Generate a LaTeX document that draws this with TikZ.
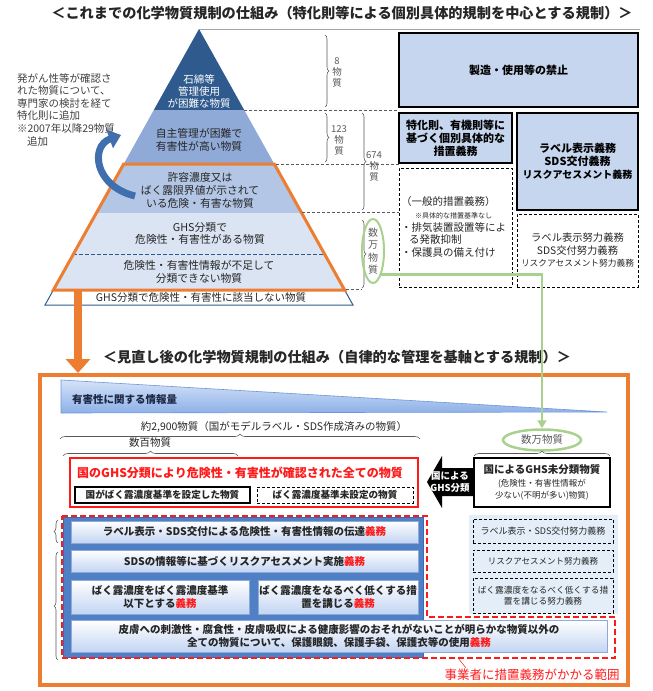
\documentclass[tikz,border=0pt]{standalone}
\usepackage{fontspec}
\setmainfont{Noto Sans CJK JP}
\usetikzlibrary{shapes.geometric,arrows.meta,decorations.pathreplacing}
\definecolor{pyrA}{HTML}{2F5A8E}
\definecolor{pyrB}{HTML}{8FAAD6}
\definecolor{pyrC}{HTML}{B3C6E5}
\definecolor{pyrD}{HTML}{DAE4F2}
\definecolor{orng}{HTML}{ED7D31}
\definecolor{grn}{HTML}{A9D18E}
\definecolor{boxfill}{HTML}{C6D6EE}
\definecolor{txt}{HTML}{262626}
\definecolor{gtxt}{HTML}{595959}
\definecolor{rd}{HTML}{FF1A1A}
\definecolor{panel}{HTML}{4F80C6}
\definecolor{paneledge}{HTML}{3A6AB0}
\definecolor{bbbot}{HTML}{C3D5F3}
\definecolor{bbedge}{HTML}{8EA9D8}
\definecolor{lpanel}{HTML}{E3EEF8}
\definecolor{trtop}{HTML}{D5E3F8}
\definecolor{trbot}{HTML}{8DB0E8}
\definecolor{tredge}{HTML}{6E96D7}
\definecolor{curvc}{HTML}{3F6FAD}
\newcommand\gimu{{\color{rd}義務}}
\begin{document}
\begin{tikzpicture}[x=1pt,y=-1pt,
  lbl/.style={inner sep=0pt, outer sep=0pt, align=center, text=txt},
  tbox/.style={draw=black, line width=1.5pt, fill=boxfill, inner sep=0pt, align=center, font=\fontsize{11}{13}\selectfont\bfseries, text=black},
  dbox/.style={draw=black, line width=1pt, dash pattern=on 3pt off 2pt, inner sep=0pt, align=center, text=txt},
  bbox/.style={draw=bbedge, line width=0.6pt, top color=white, bottom color=bbbot, inner sep=0pt, align=center, font=\fontsize{10.5}{13}\selectfont\bfseries, text=txt},
  vbrace/.style={decorate, decoration={brace, amplitude=4pt}, draw=gtxt, line width=0.6pt},
  hbrace/.style={decorate, decoration={brace, amplitude=5pt}, draw=gtxt, line width=0.6pt},
  gdash/.style={draw=gtxt, line width=0.7pt, dash pattern=on 3pt off 2pt},
  numlbl/.style={lbl, text=gtxt, font=\fontsize{9.5}{11}\selectfont}
]
\useasboundingbox (0,0) rectangle (653,691);

% ---------- titles ----------
\node[lbl, font=\fontsize{14.2}{16}\selectfont\bfseries] (title1) at (342,13) {＜これまでの化学物質規制の仕組み（特化則等による個別具体的規制を中心とする規制）＞};

% ---------- pyramid ----------
\coordinate (apex) at (199,29);
\draw[gray!70, line width=0.8pt] (apex) -- (640,29);
\fill[pyrA] (apex) -- (244.2,110) -- (153.8,110) -- cycle;
\fill[pyrB] (153.8,110) -- (244.2,110) -- (274.3,164) -- (123.7,164) -- cycle;
\fill[pyrC] (123.7,164) -- (274.3,164) -- (301.7,213) -- (96.3,213) -- cycle;
\fill[pyrD] (96.3,213) -- (301.7,213) -- (344.6,290) -- (53.4,290) -- cycle;
\draw[draw=pyrA, dash pattern=on 4pt off 2pt, line width=0.7pt] (73.4,254) -- (324.6,254);
\draw[draw=pyrA, fill=white, line width=1pt] (53.4,290) -- (344.6,290) -- (353,305) -- (45,305) -- cycle;
\draw[orng, line width=3pt] (123.7,164) -- (274.3,164) -- (344.6,290) -- (53.4,290) -- cycle;

\node[lbl, text=white, font=\fontsize{10.5}{12}\selectfont] (p1) at (199,91) {石綿等\\管理使用\\が困難な物質};
\node[lbl, font=\fontsize{10.8}{13}\selectfont] (p2) at (199,139.5) {自主管理が困難で\\有害性が高い物質};
\node[lbl, font=\fontsize{10.8}{13}\selectfont] (p3) at (200,190) {許容濃度又は\\ばく露限界値が示されて\\いる危険・有害な物質};
\node[lbl, font=\fontsize{10.8}{12.5}\selectfont] (p4) at (200,233.5) {GHS分類で\\危険性・有害性がある物質};
\node[lbl, font=\fontsize{10.8}{12.5}\selectfont] (p5) at (199,272) {危険性・有害性情報が不足して\\分類できない物質};
\node[lbl, font=\fontsize{10.5}{12}\selectfont] (p6) at (201,297.5) {GHS分類で危険性・有害性に該当しない物質};

\node[lbl, anchor=west, align=left, text={rgb,255:red,64;green,64;blue,64}, font=\fontsize{10.5}{12.6}\selectfont] (note) at (17,109.5) {発がん性等が確認さ\\れた物質について、\\専門家の検討を経て\\特化則に追加\\※2007年以降29物質\\\hspace{10pt}追加};

\draw[curvc, line width=7pt, -{Triangle[width=19pt,length=12pt]}] (135,196) .. controls (94,186) and (90,146) .. (121,135);

% ---------- dashed separators and braces ----------
\draw[gdash] (244,110) -- (399,110);
\draw[gdash] (276,164) -- (399,164);
\draw[gdash] (302,212) -- (399,212);
\draw[gdash] (346,289) -- (362,289);

\draw[vbrace] (325,35) -- (325,107);
\draw[vbrace] (325,113) -- (325,162);
\draw[vbrace] (362,113) -- (362,210);
\draw[vbrace] (362,220) -- (362,288);
\node[numlbl] (n8) at (337,72) {8\\物\\質};
\node[numlbl] (n123) at (339,140) {123\\物\\質};
\node[numlbl] (n674) at (374,166) {674\\物\\質};
\node[ellipse, draw=grn, line width=2pt, minimum width=22, minimum height=64, inner sep=0] (e1) at (373,251) {};
\node[lbl, text=gtxt, font=\fontsize{10}{12.5}\selectfont] (n10k) at (373,251) {数\\万\\物\\質};

% ---------- right boxes (top) ----------
\node[tbox, minimum width=239, minimum height=74] (ban) at (518.5,70) {製造・使用等の禁止};
\node[tbox, minimum width=113, minimum height=50] (spec) at (455.5,138) {特化則、有機則等に\\基づく個別具体的な\\措置義務};
\node[tbox, minimum width=121, minimum height=97] (lab) at (577.5,161.5) {ラベル表示義務\\SDS交付義務\\{\fontsize{10}{13}\selectfont リスクアセスメント義務}};
\node[dbox, minimum width=113, minimum height=119] (gen) at (455.5,227.5) {};
\node[lbl, anchor=west, align=left, font=\fontsize{10.5}{12.6}\selectfont] (gent) at (401,227) {（一般的措置義務）\\{\fontsize{7}{9}\selectfont\hspace{14pt}※具体的な措置基準なし}\\・排気装置設置等によ\\\hspace{8pt}る発散抑制\\・保護具の備え付け};
\node[dbox, minimum width=121, minimum height=73, font=\fontsize{10.3}{12.5}\selectfont] (eff) at (577.5,250.5) {ラベル表示努力義務\\SDS交付努力義務\\{\fontsize{8.7}{12.5}\selectfont リスクアセスメント努力義務}};

% ---------- second title and frame ----------
\node[lbl, font=\fontsize{14.2}{16}\selectfont\bfseries] (title2) at (337,357) {＜見直し後の化学物質規制の仕組み（自律的な管理を基軸とする規制）＞};
\node[draw=orng, line width=4pt, minimum width=588, minimum height=310, inner sep=0] (frame) at (334,530) {};
\coordinate (oa) at (78,291);
\draw[orng, line width=8pt, -{Triangle[width=24pt,length=14pt]}] (oa) -- (oa |- frame.north);

% information triangle
\shade[top color=trtop, bottom color=trbot] (61,380) -- (607,412) -- (61,413) -- cycle;
\draw[tredge, line width=0.6pt] (61,380) -- (607,412) -- (61,413) -- cycle;
\node[lbl, anchor=west, font=\fontsize{10.5}{12}\selectfont\bfseries, text={rgb,255:red,30;green,40;blue,70}] (info) at (72,400) {有害性に関する情報量};

\node[lbl, font=\fontsize{10.5}{12}\selectfont] (n2900) at (274,427) {約2,900物質（国がモデルラベル・SDS作成済みの物質）};
\draw[hbrace] (60,439) -- (420,439);
\node[lbl, font=\fontsize{10.5}{12}\selectfont] (n100) at (150,443) {数百物質};
\draw[hbrace] (63,456) -- (238,456);

% red box
\node[draw=rd, line width=1.3pt, fill=white, minimum width=348, minimum height=49, inner sep=0] (redbox) at (244,482.5) {};
\node[lbl, text=rd, font=\fontsize{12}{14}\selectfont\bfseries] (redt) at (240,473) {国のGHS分類により危険性・有害性が確認された全ての物質};
\node[draw=black, line width=1.2pt, minimum width=175, minimum height=16, inner sep=0, font=\fontsize{9.6}{11}\selectfont\bfseries, text=txt] (setb) at (162.5,495) {国がばく露濃度基準を設定した物質};
\node[dbox, minimum width=156, minimum height=16, font=\fontsize{9.6}{11}\selectfont\bfseries] (unset) at (335,495) {ばく露濃度基準未設定の物質};

% black arrow
\fill[black] (427,482) -- (442,456) -- (442,468) -- (473,468) -- (473,496) -- (442,496) -- (442,508) -- cycle;
\node[lbl, text=white, font=\fontsize{9.5}{12}\selectfont\bfseries] (bytxt) at (450,482) {国による\\GHS分類};

% unclassified
\node[ellipse, draw=grn, line width=2.5pt, minimum width=78, minimum height=21, inner sep=0, text=gtxt, font=\fontsize{10.5}{12}\selectfont] (e2) at (542,440) {数万物質};
\draw[hbrace] (474,456) -- (610,456);
\node[draw=black, line width=1.2pt, fill=white, minimum width=136, minimum height=49, inner sep=0] (uncl) at (542,482.5) {};
\node[lbl, font=\fontsize{10.5}{12}\selectfont\bfseries] (unclt) at (542,470) {国によるGHS未分類物質};
\node[lbl, font=\fontsize{8.5}{12}\selectfont] (uncls) at (542,490) {(危険性・有害性情報が\\少ない(不明が多い)物質)};

% panels
\fill[lpanel] (469,515) rectangle (618,614);
\draw[fill=panel, draw=paneledge, line width=0.8pt] (63,517) rectangle (423,657);

\node[bbox, minimum width=347, minimum height=22] (bb1) at (244.5,532) {ラベル表示・SDS交付による危険性・有害性情報の伝達\gimu};
\node[bbox, minimum width=347, minimum height=22] (bb2) at (244.5,561) {SDSの情報等に基づくリスクアセスメント実施\gimu};
\node[bbox, minimum width=178, minimum height=34] (bb3a) at (160,597) {ばく露濃度をばく露濃度基準\\以下とする\gimu};
\node[bbox, minimum width=160, minimum height=34] (bb3b) at (338,597) {ばく露濃度をなるべく低くする措\\置を講じる\gimu};
\node[bbox, minimum width=536, minimum height=32] (bb4) at (339,636) {皮膚への刺激性・腐食性・皮膚吸収による健康影響のおそれがないことが明らかな物質以外の\\全ての物質について、保護眼鏡、保護手袋、保護衣等の使用\gimu};

\node[dbox, minimum width=140, minimum height=24, font=\fontsize{9}{11}\selectfont] (rd1) at (543,531) {ラベル表示・SDS交付努力義務};
\node[dbox, minimum width=140, minimum height=22, font=\fontsize{8.5}{11}\selectfont] (rd2) at (543,561) {リスクアセスメント努力義務};
\node[dbox, minimum width=140, minimum height=35, font=\fontsize{8.7}{11.5}\selectfont] (rd3) at (543,595.5) {ばく露濃度をなるべく低くする措\\置を講じる努力義務};

\draw[rd, line width=2.2pt, dash pattern=on 6pt off 3pt] (62,516) -- (427,516) -- (427,617) -- (615,617) -- (615,658) -- (62,658) -- cycle;

\draw[vbrace] (58,543) -- (58,520);
\draw[vbrace] (58,660) -- (58,552);

\node[lbl, text=rd, font=\fontsize{12.5}{14}\selectfont] (scope) at (532,675) {事業者に措置義務がかかる範囲};
\coordinate (ldA) at (458,658);
\coordinate (ldB) at (466,668);
\draw[rd, line width=0.5pt] (ldA) -- (ldB);

% green connector
\draw[grn, line width=2.5pt, -{Triangle[width=9pt,length=8pt]}] (e1.-70) -| (e2.north);
\end{tikzpicture}
\end{document}
